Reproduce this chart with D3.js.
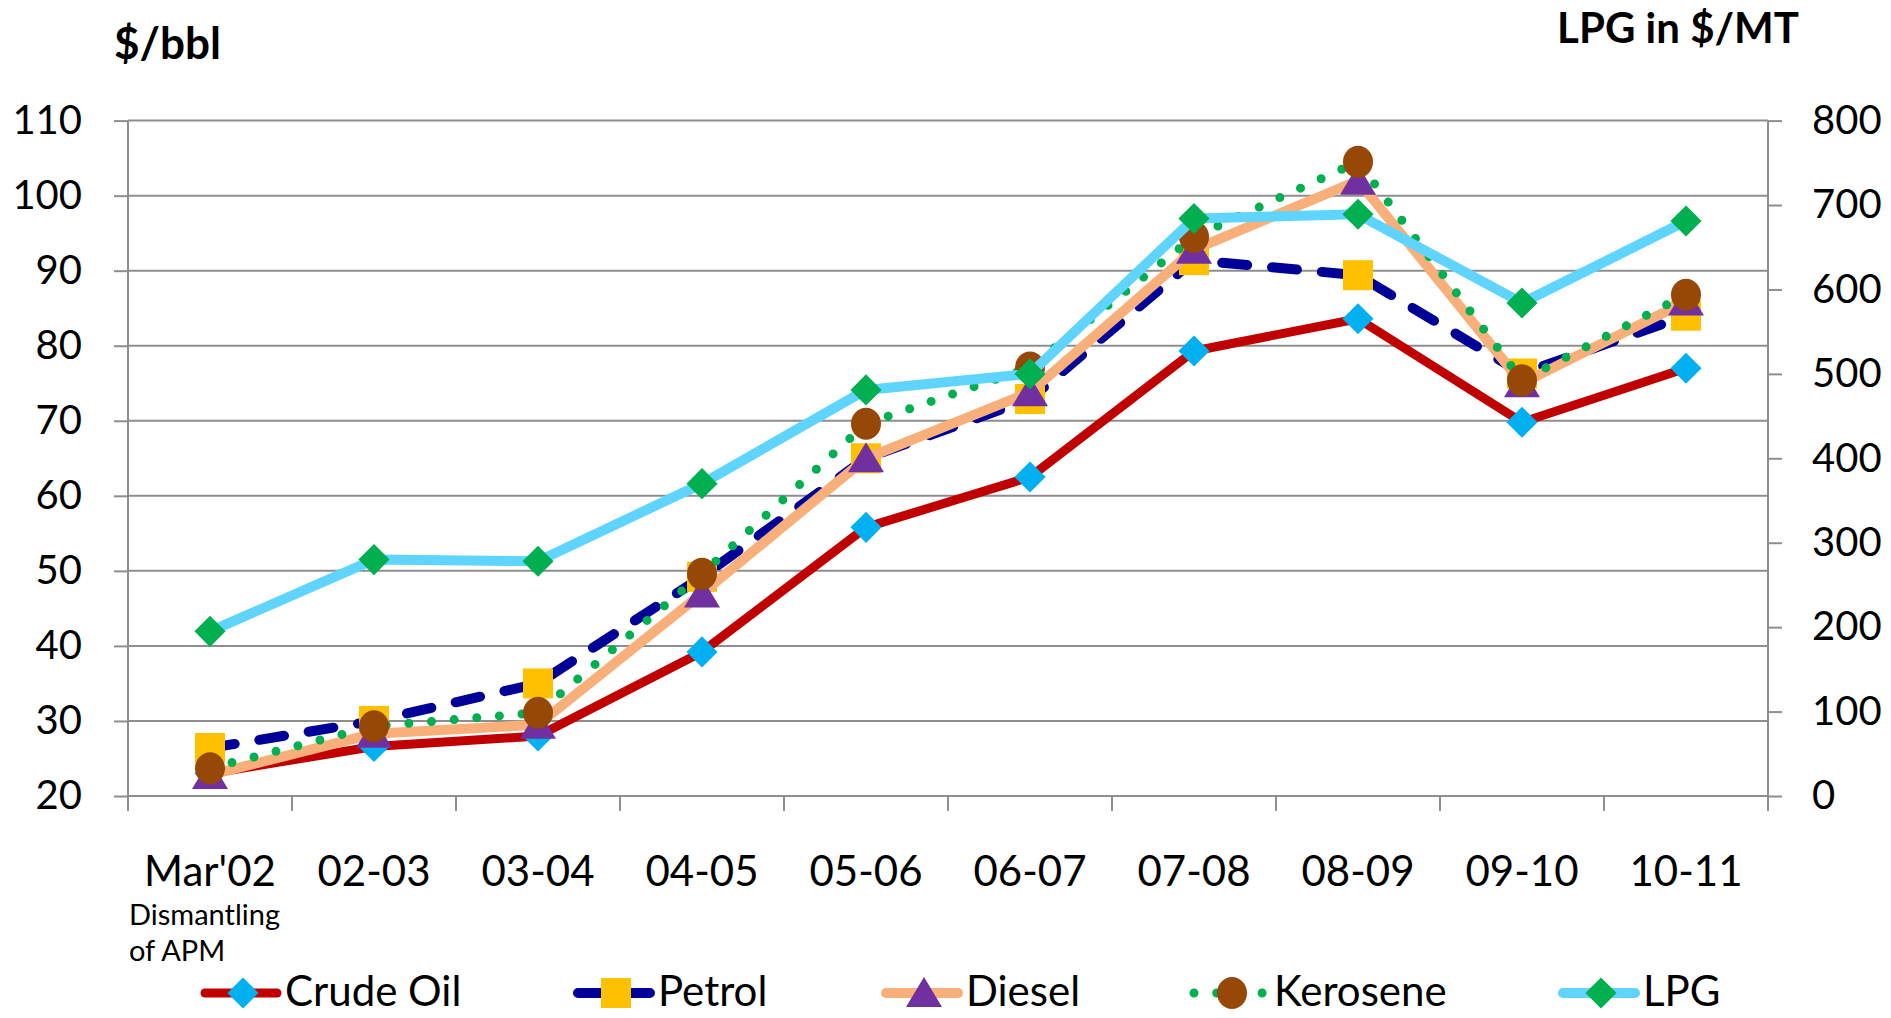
<!DOCTYPE html>
<html>
<head>
<meta charset="utf-8">
<script src="https://cdn.jsdelivr.net/npm/d3@7"></script>
<style>
  html, body { margin: 0; padding: 0; background: #fff; }
  svg { display: block; font-family: Lato, "Open Sans", sans-serif; }
</style>
</head>
<body>
<svg id="chart" width="1891" height="1018"></svg>
<script>
// ---- data ----
const categories = ["Mar'02", "02-03", "03-04", "04-05", "05-06", "06-07", "07-08", "08-09", "09-10", "10-11"];
const crudeOil = [23.0, 26.6, 28.0, 39.2, 55.8, 62.5, 79.3, 83.6, 69.8, 77.0];
const petrol   = [26.4, 30.0, 35.0, 49.2, 65.0, 72.9, 91.4, 89.4, 76.3, 84.0];
const diesel   = [22.8, 28.3, 29.5, 47.0, 65.0, 73.8, 92.8, 102.0, 75.0, 85.9];
const kerosene = [23.7, 29.3, 31.1, 49.6, 69.6, 77.1, 94.5, 104.5, 75.4, 86.8];
const lpg      = [195, 280, 278, 370, 481, 500, 684, 689, 584, 681];   // $/MT, right axis
const leftTicks  = [20, 30, 40, 50, 60, 70, 80, 90, 100, 110];
const rightTicks = [0, 100, 200, 300, 400, 500, 600, 700, 800];
const seriesNames = ["Crude Oil", "Petrol", "Diesel", "Kerosene", "LPG"];
const subLabel = ["Dismantling", "of APM"];

// ---- layout ----
const svg = d3.select("#chart");
const L = 128, R = 1768, T = 120.6, B = 796;
const x = d3.scaleBand().domain(categories).range([L, R]);
const yL = d3.scaleLinear().domain([20, 110]).range([B, T]);
const yR = d3.scaleLinear().domain([0, 800]).range([B, T]);
const cx = d => x(d) + x.bandwidth() / 2;
const gridColor = "#8e8e8e";

// left axis ticks/labels
const gL = svg.append("g").attr("transform", `translate(${L},0)`)
  .call(d3.axisLeft(yL).tickValues(leftTicks).tickSize(14).tickPadding(32).tickFormat(d3.format("d")));
gL.select(".domain").remove();
gL.selectAll(".tick line").attr("stroke", gridColor).attr("stroke-width", 2);
gL.selectAll(".tick text").attr("font-size", 40).attr("fill", "#000").attr("font-family", "Lato");
// gridlines
svg.append("g").selectAll("line").data(leftTicks).join("line")
  .attr("x1", L).attr("x2", R).attr("y1", d => yL(d)).attr("y2", d => yL(d))
  .attr("stroke", gridColor).attr("stroke-width", 2);

// right axis
const gR = svg.append("g").attr("transform", `translate(${R},0)`)
  .call(d3.axisRight(yR).tickValues(rightTicks).tickSize(14).tickPadding(30));
gR.select(".domain").remove();
gR.selectAll(".tick line").attr("stroke", gridColor).attr("stroke-width", 2);
gR.selectAll(".tick text").attr("font-size", 40).attr("fill", "#000").attr("font-family", "Lato");

// vertical axis lines
svg.append("line").attr("x1", L).attr("x2", L).attr("y1", T).attr("y2", B + 15)
  .attr("stroke", gridColor).attr("stroke-width", 2);
svg.append("line").attr("x1", R).attr("x2", R).attr("y1", T).attr("y2", B + 15)
  .attr("stroke", gridColor).attr("stroke-width", 2);

// x axis
const gX = svg.append("g").attr("transform", `translate(0,${B})`)
  .call(d3.axisBottom(x).tickSize(0).tickPadding(60));
gX.select(".domain").remove();
gX.selectAll(".tick text").attr("font-size", 42).attr("fill", "#000").attr("font-family", "Lato");
// category boundary ticks
const bounds = categories.map(c => x(c)).concat([R]);
svg.append("g").selectAll("line").data(bounds).join("line")
  .attr("x1", d => d).attr("x2", d => d).attr("y1", B).attr("y2", B + 15)
  .attr("stroke", gridColor).attr("stroke-width", 2);

// sub label
svg.append("text").attr("x", 129).attr("y", 925).attr("font-size", 29).text(subLabel[0]);
svg.append("text").attr("x", 129).attr("y", 961).attr("font-size", 29).text(subLabel[1]);

// axis titles
svg.append("text").attr("x", 114).attr("y", 59).attr("font-size", 44).attr("font-weight", "bold").text("$/bbl");
svg.append("text").attr("x", 1799).attr("y", 43).attr("font-size", 42).attr("font-weight", "bold")
  .attr("text-anchor", "end").text("LPG in $/MT");

// ---- markers ----
const diamondPath = d3.symbol().type(d3.symbolSquare).size(484)();
function marker(g, type, px, py) {
  if (type === "diamond-cyan" || type === "diamond-green") {
    g.append("path").attr("d", diamondPath)
      .attr("transform", `translate(${px},${py}) rotate(45)`)
      .attr("fill", type === "diamond-cyan" ? "#00B0F0" : "#00B050");
  } else if (type === "square") {
    g.append("rect").attr("x", px - 15).attr("y", py - 15).attr("width", 30).attr("height", 30).attr("fill", "#FFC000");
  } else if (type === "triangle") {
    g.append("path").attr("d", `M${px},${py - 16}L${px + 18},${py + 14}L${px - 18},${py + 14}Z`).attr("fill", "#7030A0");
  } else if (type === "circle") {
    g.append("ellipse").attr("cx", px).attr("cy", py).attr("rx", 15).attr("ry", 16).attr("fill", "#974706");
  }
}

const series = [
  { name: seriesNames[0], values: crudeOil, y: yL, color: "#C00000", width: 9, dash: null, marker: "diamond-cyan" },
  { name: seriesNames[1], values: petrol,   y: yL, color: "#000099", width: 10, dash: "25,25", marker: "square" },
  { name: seriesNames[2], values: diesel,   y: yL, color: "#F9AF7A", width: 10, dash: null, marker: "triangle" },
  { name: seriesNames[3], values: kerosene, y: yL, color: "#00B050", width: 9, dash: "0,22.7", marker: "circle" },
  { name: seriesNames[4], values: lpg,      y: yR, color: "#5FD4FE", width: 10, dash: null, marker: "diamond-green" }
];

series.forEach(s => {
  const g = svg.append("g");
  const line = d3.line().x((d, i) => cx(categories[i])).y(d => s.y(d));
  g.append("path").datum(s.values).attr("d", line)
    .attr("fill", "none").attr("stroke", s.color).attr("stroke-width", s.width)
    .attr("stroke-linejoin", "round").attr("stroke-linecap", "round")
    .attr("stroke-dasharray", s.dash);
  s.values.forEach((v, i) => marker(g, s.marker, cx(categories[i]), s.y(v)));
});

// ---- legend ----
const legendX = [205, 578, 886, 1194, 1563];
const ly = 993;
series.forEach((s, i) => {
  const g = svg.append("g");
  const x0 = legendX[i];
  g.append("line").attr("x1", x0).attr("x2", x0 + 72).attr("y1", ly).attr("y2", ly)
    .attr("stroke", s.color).attr("stroke-width", s.width).attr("stroke-linecap", "round")
    .attr("stroke-dasharray", s.dash);
  marker(g, s.marker, x0 + 38, ly);
  g.append("text").attr("x", x0 + 80).attr("y", 1006).attr("font-size", 42).text(s.name);
});
</script>
</body>
</html>
